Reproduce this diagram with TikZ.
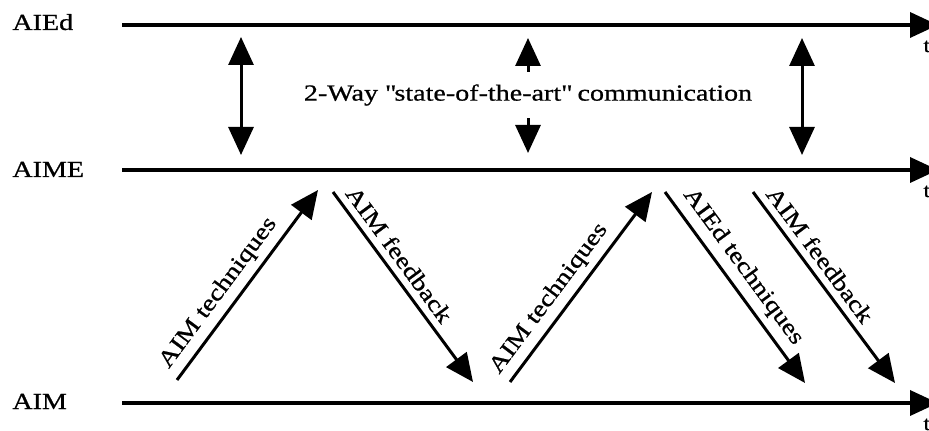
\documentclass[tikz,border=0pt]{standalone}
\usepackage{fontspec}
\setmainfont[FakeStretch=1.22,FakeBold=0.8]{Liberation Serif}
\usetikzlibrary{arrows.meta}

\tikzset{
  big/.tip={Triangle[length=14pt,width=12.5pt]},
  tline/.style={line width=1.8pt,-big},
  flow/.style={line width=1.5pt,-big},
  twoway/.style={line width=1.5pt,big-big},
  lab/.style={font=\fontsize{11.5}{13}\selectfont},
  tlab/.style={font=\fontsize{10}{11}\selectfont,anchor=base west,inner sep=0pt},
}

\begin{document}
\begin{tikzpicture}[x=0.5pt,y=-0.5pt]
	%\draw[help lines] (0,0) grid (929,431);
	\useasboundingbox (0,0) rectangle (929,431);
	\clip (0,0) rectangle (929,431);
	% levels
	\node[lab,anchor=base west,inner sep=0pt] (AIEd) at (12,30) {AIEd};
	\node[lab,anchor=base west,inner sep=0pt] (AIME) at (12,177) {AIME};
	\node[lab,anchor=base west,inner sep=0pt] (AIM) at (12,409) {AIM};
	\coordinate (L1s) at (122,25); \coordinate (L1e) at (938,25);
	\coordinate (L2s) at (122,170); \coordinate (L2e) at (938,170);
	\coordinate (L3s) at (122,403); \coordinate (L3e) at (938,403);
	\draw[tline] (L1s)--(L1e);
	\draw[tline] (L2s)--(L2e);
	\draw[tline] (L3s)--(L3e);
	\node[tlab] (t1) at (923,52) {t};
	\node[tlab] (t2) at (923,197) {t};
	\node[tlab] (t3) at (923,430) {t};
	% 2-way
	\coordinate (U1) at (241,37); \coordinate (V1) at (241,155);
	\coordinate (U3) at (802,38); \coordinate (V3) at (802,155);
	\coordinate (U2) at (528,38); \coordinate (V2) at (528,153);
	\draw[twoway] (U1)--(V1);
	\draw[twoway] (U3)--(V3);
	\node[lab,inner xsep=3pt,minimum height=23pt] (comm) at (528,95) {2-Way \textquotedbl state-of-the-art\textquotedbl{} communication};
	\draw[flow] (comm.north)--(U2);
	\draw[flow] (comm.south)--(V2);
	% between AIME and AIM
	\coordinate (D1s) at (177,380); \coordinate (D1e) at (318,190);
	\coordinate (D2s) at (333,192); \coordinate (D2e) at (473,382);
	\coordinate (D3s) at (510,382); \coordinate (D3e) at (652,192);
	\coordinate (D4s) at (665,192); \coordinate (D4e) at (805,383);
	\coordinate (D5s) at (753,192); \coordinate (D5e) at (895,383);
	\draw[flow] (D1s)-- node[lab,sloped,above,pos=0.4](T1){AIM techniques} (D1e);
	\draw[flow] (D2s)-- node[lab,sloped,above,pos=0.38](F1){AIM feedback} (D2e);
	\draw[flow] (D3s)-- node[lab,sloped,above,pos=0.38](T2){AIM techniques} (D3e);
	\draw[flow] (D4s)-- node[lab,sloped,above,pos=0.45](T3){AIEd techniques} (D4e);
	\draw[flow] (D5s)-- node[lab,sloped,above,pos=0.38](F2){AIM feedback} (D5e);
\end{tikzpicture}
\end{document}
